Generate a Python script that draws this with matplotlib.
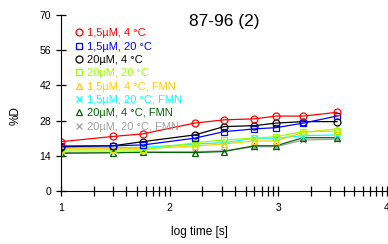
import numpy as np
import matplotlib.pyplot as plt
from matplotlib.lines import Line2D

# log10 of time
log_t = [1.0, 1.48, 1.75, 2.23, 2.5, 2.78, 2.98, 3.23, 3.54]

labels = ['1,5µM, 4 °C', '1,5µM, 20 °C', '20µM, 4 °C', '20µM, 20 °C',
          '1,5µM, 4 °C, FMN', '1,5µM, 20 °C, FMN', '20µM, 4 °C, FMN', '20µM, 20 °C, FMN']
colors = ['#ff0000', '#0000ff', '#000000', '#99ff00',
          '#ffcc00', '#00ffff', '#006400', '#a0a0a0']
markers = ['o', 's', 'o', 's', '^', 'x', '^', 'x']

d_red = [19.6, 21.7, 22.7, 27.0, 28.3, 28.7, 29.8, 29.8, 31.3]
d_blue = [17.9, 18.0, 18.3, 21.0, 23.6, 24.7, 25.2, 27.0, 29.8]
d_black = [17.6, 18.0, 19.6, 22.3, 25.6, 26.0, 27.0, 27.6, 27.6]
d_lgreen = [16.3, 16.3, 16.3, 19.2, 20.3, 21.0, 21.6, 23.6, 23.8]
d_orange = [16.8, 16.8, 16.8, 17.9, 18.7, 19.9, 19.9, 23.3, 24.7]
d_cyan = [17.3, 17.3, 17.3, 18.7, 19.2, 21.0, 21.0, 22.0, 22.3]
d_dgreen = [15.0, 15.2, 15.4, 15.3, 15.7, 18.0, 18.0, 21.2, 21.2]
d_gray = [15.4, 15.4, 15.4, 15.6, 16.0, 17.6, 17.6, 20.3, 20.6]
series = [d_red, d_blue, d_black, d_lgreen, d_orange, d_cyan, d_dgreen, d_gray]

plt.rcParams['font.family'] = ['Liberation Sans', 'DejaVu Sans']

fig = plt.figure(figsize=(3.88, 2.44), dpi=100)
ax = fig.add_axes([61 / 388, 53 / 244, 326 / 388, 176 / 244])

# draw in reverse so red ends up on top
for y, c, m in reversed(list(zip(series, colors, markers))):
    ax.plot(log_t, y, color=c, lw=0.9, marker=m, ms=5, mfc='none', mec=c, mew=0.9)

ax.set_xlim(1, 4)
ax.set_ylim(0, 70)
ax.set_yticks([0, 14, 28, 42, 56, 70])
ax.set_xticks([1, 2, 3, 4])
minor = [d + np.log10(k) for d in (1, 2, 3) for k in range(2, 10)]
ax.set_xticks(minor, minor=True)
for s in ('top', 'right'):
    ax.spines[s].set_visible(False)
ax.tick_params(axis='both', which='both', direction='inout', length=7, width=0.9, labelsize=7.5)
ax.tick_params(axis='x', pad=5)

ax.set_xlabel('log time [s]', fontsize=8.5, labelpad=10)
ax.xaxis.set_label_coords(0.426, -0.2)
ax.set_ylabel('%D', fontsize=8.5)
ax.yaxis.set_label_coords(-0.12, 0.43)
ax.text(0.5, 0.965, '87-96 (2)', transform=ax.transAxes, fontsize=12.5, ha='center', va='center')

handles = [Line2D([], [], ls='none', marker=m, color=c, mfc='none', ms=5, mew=0.9)
           for c, m in zip(colors, markers)]
leg = ax.legend(handles, labels, loc='upper left', bbox_to_anchor=(0.035, 0.925), frameon=False,
                fontsize=8, handletextpad=0.15, labelspacing=0.3, handlelength=1.2,
                borderaxespad=0.0, borderpad=0.0)
for t, c in zip(leg.get_texts(), colors):
    t.set_color(c)

fig.savefig('out.png', dpi=100)
